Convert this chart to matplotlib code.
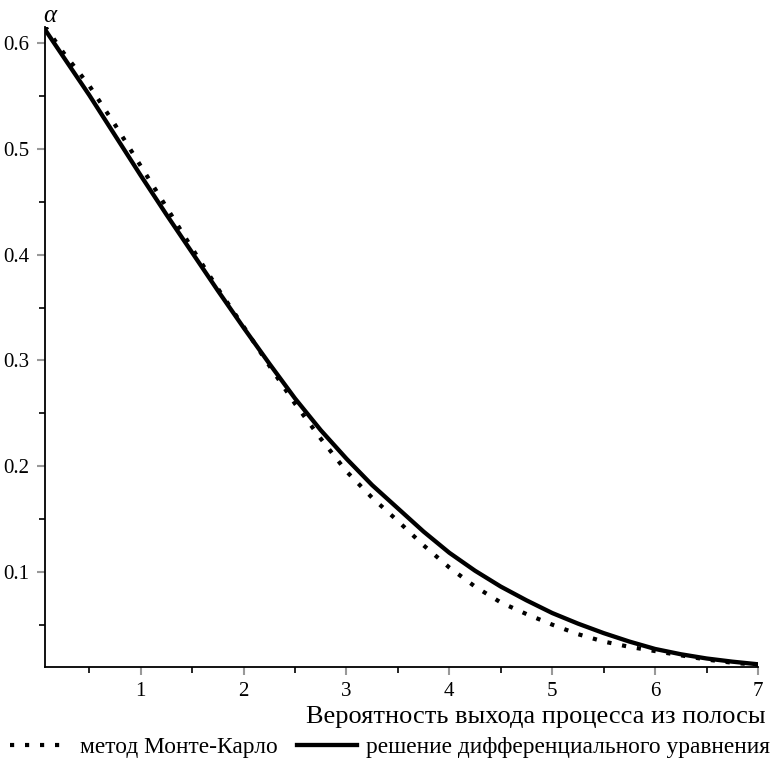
import matplotlib
matplotlib.use("Agg")
import matplotlib.pyplot as plt
from matplotlib.ticker import MultipleLocator, FixedLocator

# data
x_vals = [0.07, 0.25, 0.5, 0.75, 1.0, 1.25, 1.5, 1.75, 2.0, 2.25, 2.5, 2.75, 3.0, 3.25,
          3.5, 3.75, 4.0, 4.25, 4.5, 4.75, 5.0, 5.25, 5.5, 5.75, 6.0, 6.25, 6.5, 6.75, 7.0]
monte_carlo = [0.616, 0.591, 0.560, 0.523, 0.484, 0.445, 0.406, 0.368, 0.332, 0.295,
               0.259, 0.226, 0.195, 0.170, 0.148, 0.125, 0.104, 0.086, 0.071, 0.060,
               0.050, 0.041, 0.034, 0.029, 0.025, 0.021, 0.017, 0.014, 0.012]
diff_eq = [0.613, 0.587, 0.551, 0.513, 0.475, 0.438, 0.402, 0.366, 0.331, 0.297,
           0.264, 0.234, 0.207, 0.182, 0.160, 0.138, 0.118, 0.101, 0.086, 0.073,
           0.061, 0.051, 0.042, 0.034, 0.027, 0.022, 0.018, 0.015, 0.0125]

x_ticks = [1, 2, 3, 4, 5, 6, 7]
y_ticks = [0.1, 0.2, 0.3, 0.4, 0.5, 0.6]
x_label = "Вероятность выхода процесса из полосы"
y_label = "α"
label_mc = "метод Монте-Карло"
label_de = "решение дифференциального уравнения"

plt.rcParams['font.family'] = ['Liberation Serif', 'DejaVu Serif']

fig = plt.figure(figsize=(7.73, 7.69), dpi=100)
ax = fig.add_axes([0.0582, 0.133, 0.9806 - 0.0582, 0.9649 - 0.133])

ax.plot(x_vals, monte_carlo, color='black', lw=3.0, linestyle=(0, (1, 2.6)),
        dash_capstyle='butt', label=label_mc)
ax.plot(x_vals, diff_eq, color='black', lw=3.1, label=label_de)

ax.set_xlim(0.07, 7.0)
ax.set_ylim(0.0102, 0.6154)

ax.spines['top'].set_visible(False)
ax.spines['right'].set_visible(False)
for s in ('left', 'bottom'):
    ax.spines[s].set_linewidth(1.3)

ax.xaxis.set_major_locator(FixedLocator(x_ticks))
ax.yaxis.set_major_locator(FixedLocator(y_ticks))
ax.xaxis.set_minor_locator(MultipleLocator(0.5))
ax.yaxis.set_minor_locator(MultipleLocator(0.05))
ax.set_xticklabels([str(t) for t in x_ticks])
ax.set_yticklabels([f"{t:.1f}" for t in y_ticks])
ax.tick_params(which='major', direction='out', length=6, width=1.5, color='#999999',
               labelsize=15, pad=5)
ax.tick_params(which='minor', direction='out', length=4, width=1.2, color='black')

ax.text(1.01, -0.062, x_label, transform=ax.transAxes, ha='right', va='top', fontsize=19)
ax.text(-0.003, 1.0, y_label, transform=ax.transAxes, ha='left', va='bottom',
        fontsize=18, style='italic')

fig.legend(loc='center', bbox_to_anchor=(0.505, 22 / 769), ncol=2, frameon=False,
           fontsize=16.8, handlelength=2.55, handletextpad=0.42, columnspacing=0.85,
           borderpad=0.0, borderaxespad=0.0)

fig.savefig('out.png', dpi=100)
